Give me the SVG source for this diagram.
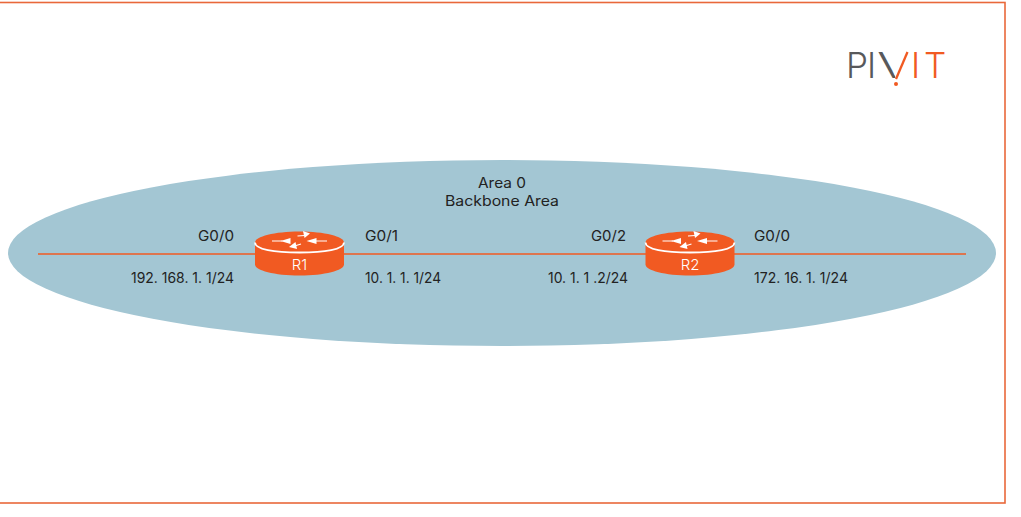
<svg xmlns="http://www.w3.org/2000/svg" width="1021" height="517" viewBox="0 0 1021 517">
<style>
text{font-family:Inter,"Liberation Sans",sans-serif;font-size:14px;fill:#222}
.m{text-anchor:middle}
.wire{stroke:#f15a22;stroke-width:1.5;fill:none}
.body{fill:#f15a22}
.rim{fill:none;stroke:#fff;stroke-width:1.8}
.arr{stroke:#fff;stroke-width:1.2;fill:none}
.head{fill:#fff}
.rl{fill:#fff;font-size:15px;text-anchor:middle;font-weight:300}
.logo{font-size:35px;font-weight:300}
</style>
<defs>
<clipPath id="vleft"><path d="M870 48H890L896 82H870Z"/></clipPath>
<g id="router">
<path class="body" d="M-44.500-11C-44.500-17-25-22 0-22S44.500-17 44.500-11V11C44.500 17 25 22 0 22S-44.500 17-44.500 11Z"/>
<path class="rim" d="M-44.500-11C-44.500-4-25-1 0-1S44.500-4 44.500-11"/>
<path class="arr" d="M-27.500-12.500H-17M15-12.500H27.500M-2-17.500L5-18M-5-7.500L1.500-9.500"/>
<path class="head" d="M-19-12.500L-9-15.500V-9.500Z"/>
<path class="head" d="M7-12.500L17-15.500V-9.500Z"/>
<path class="head" d="M10.500-20L3.500-22.500L5-15.500Z"/>
<path class="head" d="M-10.500-6.500L-4-11.500L-2.500-4.500Z"/>
</g>
</defs>
<rect width="1021" height="517" fill="#fff"/>
<rect id="frame" x="-1" y="2.500" width="1006" height="500.500" fill="none" stroke="#e9683a" stroke-width="1.6"/>
<ellipse id="area" cx="502" cy="253" rx="494" ry="93" fill="#a3c6d3"/>
<g id="area-label">
<text class="m" x="502" y="188" textLength="48" lengthAdjust="spacingAndGlyphs">Area 0</text>
<text class="m" x="502" y="206" textLength="114" lengthAdjust="spacingAndGlyphs">Backbone Area</text>
</g>
<g id="connectors">
<path class="wire" d="M38 254H966"/>
</g>
<g id="r1">
<use href="#router" x="299.500" y="253.500"/>
<text class="rl" x="299.500" y="270">R1</text>
</g>
<g id="r2">
<use href="#router" x="690" y="253.500"/>
<text class="rl" x="690" y="270">R2</text>
</g>
<g id="labels-r1">
<text x="198" y="241" textLength="36" lengthAdjust="spacingAndGlyphs">G0/0</text>
<text x="131" y="283" textLength="103" lengthAdjust="spacingAndGlyphs">192. 168. 1. 1/24</text>
<text x="365" y="241" textLength="33" lengthAdjust="spacingAndGlyphs">G0/1</text>
<text x="365" y="283" textLength="76" lengthAdjust="spacingAndGlyphs">10. 1. 1. 1/24</text>
</g>
<g id="labels-r2">
<text x="591" y="241" textLength="35" lengthAdjust="spacingAndGlyphs">G0/2</text>
<text x="548" y="283" textLength="80" lengthAdjust="spacingAndGlyphs">10. 1. 1 .2/24</text>
<text x="754" y="241" textLength="36" lengthAdjust="spacingAndGlyphs">G0/0</text>
<text x="754" y="283" textLength="94" lengthAdjust="spacingAndGlyphs">172. 16. 1. 1/24</text>
</g>
<g id="logo">
<text class="logo" x="846 867" y="78" style="fill:#58595b">PI</text>
<g clip-path="url(#vleft)"><text class="logo" transform="translate(877 78) scale(1.5 1)" x="0" y="0" style="fill:#58595b">V</text></g>
<path d="M907.500 52L896 79" stroke="#f15a22" stroke-width="2.300" fill="none"/>
<circle cx="896" cy="84" r="2" fill="#f15a22"/>
<text class="logo" x="911 924" y="78" style="fill:#f15a22">IT</text>
</g>
</svg>
